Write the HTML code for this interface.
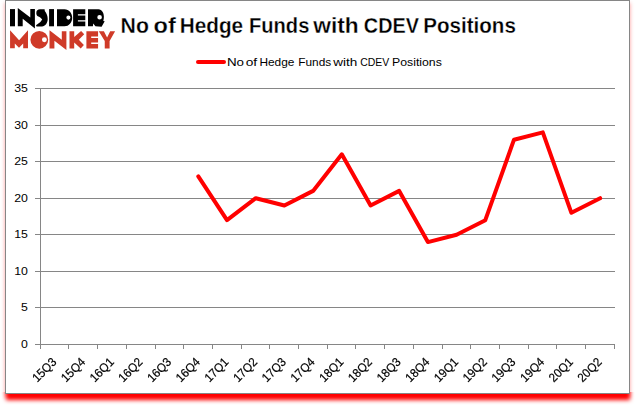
<!DOCTYPE html>
<html><head><meta charset="utf-8"><title>chart</title>
<style>
html,body{margin:0;padding:0;background:#fff;}
body{width:635px;height:405px;overflow:hidden;position:relative;font-family:"Liberation Sans",sans-serif;}
#shclip{position:absolute;left:0;top:392px;width:635px;height:13px;overflow:hidden;}
#shadow{position:absolute;left:5.5px;top:-12px;width:624px;height:19.8px;background:#ff0000;filter:blur(2px);}
#frame{position:absolute;left:5px;top:0;width:623px;height:392px;border:1px solid #868686;background:#fff;box-shadow:0 3px 4px rgba(255,0,0,0.4);}
svg{position:absolute;left:0;top:0;}
text{font-family:"Liberation Sans",sans-serif;}
</style></head><body>
<div id="shclip"><div id="shadow"></div></div><div id="frame"></div>
<svg width="635" height="405" viewBox="0 0 635 405">

<g fill="#868686" shape-rendering="crispEdges">
<rect x="35" y="88" width="580" height="1"/>
<rect x="35" y="125" width="580" height="1"/>
<rect x="35" y="161" width="580" height="1"/>
<rect x="35" y="198" width="580" height="1"/>
<rect x="35" y="234" width="580" height="1"/>
<rect x="35" y="271" width="580" height="1"/>
<rect x="35" y="307" width="580" height="1"/>
<rect x="35" y="344" width="580" height="1"/>
<rect x="40" y="88" width="1" height="261"/>
<rect x="68" y="344" width="1" height="5"/>
<rect x="97" y="344" width="1" height="5"/>
<rect x="126" y="344" width="1" height="5"/>
<rect x="155" y="344" width="1" height="5"/>
<rect x="183" y="344" width="1" height="5"/>
<rect x="212" y="344" width="1" height="5"/>
<rect x="241" y="344" width="1" height="5"/>
<rect x="269" y="344" width="1" height="5"/>
<rect x="298" y="344" width="1" height="5"/>
<rect x="327" y="344" width="1" height="5"/>
<rect x="355" y="344" width="1" height="5"/>
<rect x="384" y="344" width="1" height="5"/>
<rect x="413" y="344" width="1" height="5"/>
<rect x="442" y="344" width="1" height="5"/>
<rect x="470" y="344" width="1" height="5"/>
<rect x="499" y="344" width="1" height="5"/>
<rect x="528" y="344" width="1" height="5"/>
<rect x="556" y="344" width="1" height="5"/>
<rect x="585" y="344" width="1" height="5"/>
<rect x="614" y="344" width="1" height="5"/>
</g>
<g font-size="11.2" fill="#000">
<text x="14.20" y="91.8" textLength="13.70" lengthAdjust="spacingAndGlyphs">35</text>
<text x="14.20" y="128.8" textLength="13.70" lengthAdjust="spacingAndGlyphs">30</text>
<text x="14.20" y="164.8" textLength="13.70" lengthAdjust="spacingAndGlyphs">25</text>
<text x="14.20" y="201.8" textLength="13.70" lengthAdjust="spacingAndGlyphs">20</text>
<text x="14.20" y="237.8" textLength="13.70" lengthAdjust="spacingAndGlyphs">15</text>
<text x="14.20" y="274.8" textLength="13.70" lengthAdjust="spacingAndGlyphs">10</text>
<text x="21.05" y="310.8" textLength="6.85" lengthAdjust="spacingAndGlyphs">5</text>
<text x="21.05" y="347.8" textLength="6.85" lengthAdjust="spacingAndGlyphs">0</text>
</g>
<g font-size="12.3" fill="#000" stroke="#000" stroke-width="0.2" opacity="0.999">
<text transform="translate(57.2,362.8) rotate(-45)" x="-28.2" y="0" textLength="28.2" lengthAdjust="spacingAndGlyphs">15Q3</text>
<text transform="translate(86.0,362.8) rotate(-45)" x="-28.2" y="0" textLength="28.2" lengthAdjust="spacingAndGlyphs">15Q4</text>
<text transform="translate(114.7,362.8) rotate(-45)" x="-28.2" y="0" textLength="28.2" lengthAdjust="spacingAndGlyphs">16Q1</text>
<text transform="translate(143.3,362.8) rotate(-45)" x="-28.2" y="0" textLength="28.2" lengthAdjust="spacingAndGlyphs">16Q2</text>
<text transform="translate(172.1,362.8) rotate(-45)" x="-28.2" y="0" textLength="28.2" lengthAdjust="spacingAndGlyphs">16Q3</text>
<text transform="translate(200.8,362.8) rotate(-45)" x="-28.2" y="0" textLength="28.2" lengthAdjust="spacingAndGlyphs">16Q4</text>
<text transform="translate(229.4,362.8) rotate(-45)" x="-28.2" y="0" textLength="28.2" lengthAdjust="spacingAndGlyphs">17Q1</text>
<text transform="translate(258.1,362.8) rotate(-45)" x="-28.2" y="0" textLength="28.2" lengthAdjust="spacingAndGlyphs">17Q2</text>
<text transform="translate(286.8,362.8) rotate(-45)" x="-28.2" y="0" textLength="28.2" lengthAdjust="spacingAndGlyphs">17Q3</text>
<text transform="translate(315.5,362.8) rotate(-45)" x="-28.2" y="0" textLength="28.2" lengthAdjust="spacingAndGlyphs">17Q4</text>
<text transform="translate(344.2,362.8) rotate(-45)" x="-28.2" y="0" textLength="28.2" lengthAdjust="spacingAndGlyphs">18Q1</text>
<text transform="translate(372.9,362.8) rotate(-45)" x="-28.2" y="0" textLength="28.2" lengthAdjust="spacingAndGlyphs">18Q2</text>
<text transform="translate(401.6,362.8) rotate(-45)" x="-28.2" y="0" textLength="28.2" lengthAdjust="spacingAndGlyphs">18Q3</text>
<text transform="translate(430.3,362.8) rotate(-45)" x="-28.2" y="0" textLength="28.2" lengthAdjust="spacingAndGlyphs">18Q4</text>
<text transform="translate(459.0,362.8) rotate(-45)" x="-28.2" y="0" textLength="28.2" lengthAdjust="spacingAndGlyphs">19Q1</text>
<text transform="translate(487.7,362.8) rotate(-45)" x="-28.2" y="0" textLength="28.2" lengthAdjust="spacingAndGlyphs">19Q2</text>
<text transform="translate(516.4,362.8) rotate(-45)" x="-28.2" y="0" textLength="28.2" lengthAdjust="spacingAndGlyphs">19Q3</text>
<text transform="translate(545.1,362.8) rotate(-45)" x="-28.2" y="0" textLength="28.2" lengthAdjust="spacingAndGlyphs">19Q4</text>
<text transform="translate(573.8,362.8) rotate(-45)" x="-28.2" y="0" textLength="28.2" lengthAdjust="spacingAndGlyphs">20Q1</text>
<text transform="translate(602.5,362.8) rotate(-45)" x="-28.2" y="0" textLength="28.2" lengthAdjust="spacingAndGlyphs">20Q2</text>
</g>
<polyline points="198.3,176.3 227.0,220.2 255.8,198.2 284.4,205.5 313.1,190.9 341.8,154.3 370.6,205.5 399.2,190.9 427.9,242.1 456.6,234.8 485.3,220.2 514.0,139.7 542.8,132.4 571.4,212.8 600.1,198.2" fill="none" stroke="#ff0000" stroke-width="4" stroke-linecap="round" stroke-linejoin="round"/>
<line x1="198" y1="62" x2="224" y2="62" stroke="#ff0000" stroke-width="4" stroke-linecap="round"/>
<g font-size="11" fill="#000">
<text x="226.91" y="66" textLength="17.11" lengthAdjust="spacingAndGlyphs">No</text>
<text x="245.71" y="66" textLength="11.50" lengthAdjust="spacingAndGlyphs">of</text>
<text x="259.43" y="66" textLength="35.01" lengthAdjust="spacingAndGlyphs">Hedge</text>
<text x="298.25" y="66" textLength="32.87" lengthAdjust="spacingAndGlyphs">Funds</text>
<text x="333.33" y="66" textLength="24.03" lengthAdjust="spacingAndGlyphs">with</text>
<text x="360.25" y="66" textLength="29.05" lengthAdjust="spacingAndGlyphs">CDEV</text>
<text x="392.01" y="66" textLength="49.82" lengthAdjust="spacingAndGlyphs">Positions</text>
</g>
<g font-size="22" font-weight="bold" fill="#000" stroke="#fff" stroke-width="0.3">
<text x="120.57" y="32.8" textLength="28.32" lengthAdjust="spacingAndGlyphs">No</text>
<text x="153.49" y="32.8" textLength="22.24" lengthAdjust="spacingAndGlyphs">of</text>
<text x="179.79" y="32.8" textLength="63.28" lengthAdjust="spacingAndGlyphs">Hedge</text>
<text x="249.06" y="32.8" textLength="60.27" lengthAdjust="spacingAndGlyphs">Funds</text>
<text x="313.21" y="32.8" textLength="45.44" lengthAdjust="spacingAndGlyphs">with</text>
<text x="363.83" y="32.8" textLength="55.01" lengthAdjust="spacingAndGlyphs">CDEV</text>
<text x="423.18" y="32.8" textLength="92.66" lengthAdjust="spacingAndGlyphs">Positions</text>
</g>
<g id="logo">
<g fill="#000">
<rect x="10" y="9.1" width="5" height="17.2"/>
<polygon points="17.8,26.3 17.8,8 30.3,17.5 30.3,9.1 34.9,9.1 34.9,28.4 22.7,18.7 22.7,26.3"/>
<path d="M36.3,13 C36.3,10.6 37.8,9.3 40,9.3 L44.6,9.3 L44.8,11 C46.6,13 47.7,16 47.7,19 C47.7,23 45.3,26.4 42,26.4 L36.5,26.4 L36,25.2 L40.4,21.9 L42.2,19.5 C41.2,18 39.5,17 37.8,16.3 C36.8,15.7 36.3,14.5 36.3,13 Z"/>
<rect x="49.1" y="9.1" width="4.9" height="17.2"/>
<path fill-rule="evenodd" d="M57,9.2 H64.5 C69,9.2 72.2,13 72.2,17.75 C72.2,22.5 69,26.3 64.5,26.3 H57 Z M70.45,17.6 A2.05,2.05 0 1 0 66.35,17.6 A2.05,2.05 0 1 0 70.45,17.6 Z"/>
<path d="M73.1,9.2 H85.3 V14.25 H77.9 V15.6 H85.3 V20.25 H77.9 V21.6 H85.3 V26.3 H73.1 Z"/>
<path fill-rule="evenodd" d="M88,9.2 H98.5 C102,9.2 103.9,13 103.9,16.8 C103.9,18.5 103.6,19.8 103.3,20.9 L104.7,21.3 L101.6,26.8 L95.4,26.3 L93.2,23.6 L92.9,26.3 H88 Z M101.9,17.2 A2.3,2.3 0 1 0 97.3,17.2 A2.3,2.3 0 1 0 101.9,17.2 Z"/>
</g>
<g fill="#cf3a28">
<polygon points="10.07,48.3 10.07,30.2 19.1,40.2 28,30.2 28,48.3 23.2,48.3 23.2,43.5 19,47.8 14.8,43.5 14.8,48.3"/>
<path fill-rule="evenodd" d="M48.2,39.8 A8.9,8.9 0 1 0 30.4,39.8 A8.9,8.9 0 1 0 48.2,39.8 Z M46.85,39.7 A2.45,2.45 0 1 0 41.95,39.7 A2.45,2.45 0 1 0 46.85,39.7 Z"/>
<polygon points="49.5,48.4 49.5,30.2 61.8,39.7 61.8,31.3 66.4,31.3 66.4,49.9 54.4,40.8 54.4,48.4"/>
<path d="M69.5,31.3 H74.2 V37 L81.1,31 L84.2,34.3 L78.8,39.7 L83.9,45.1 L80.7,48.4 L74.2,42.4 V48.4 H69.5 Z"/>
<path d="M86.4,31.3 H98.07 V36.4 H91.2 V37.9 H98.07 V42.5 H91.2 V44 H98.07 V48.4 H86.4 Z"/>
<polygon points="98.8,31.3 103.9,31.3 107.1,37.5 110.2,31.3 115.1,31.3 109.6,41 109.6,48.4 104.75,48.4 104.75,41"/>
</g>
</g>

</svg></body></html>
